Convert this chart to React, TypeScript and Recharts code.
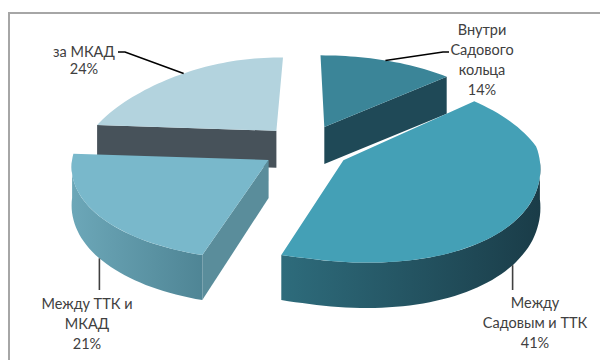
import React from 'react';
import { PieChart, Pie } from 'recharts';

// доли поездок по зонам
const zones = ['Внутри Садового кольца', 'Между Садовым и ТТК', 'Между ТТК и МКАД', 'за МКАД'];
const shares = [14, 41, 21, 24];
const labelLines = [
  ['Внутри', 'Садового', 'кольца'],
  ['Между', 'Садовым и ТТК'],
  ['Между ТТК и', 'МКАД'],
  ['за МКАД'],
];

const data = zones.map((name, i) => ({ name, value: shares[i], idx: i }));

const topColors = ['#3b8598', '#44a0b6', '#79b8cb', '#b3d3de'];
const sideColors = ['#1f4957', '#1d4250', '#5a8d9b', '#47525a'];
const wallFrom = ['#2a6676', '#2e6c7c', '#6ca7b8', '#8fb3bf'];
const wallTo = ['#1b3d49', '#1a3c48', '#4f8595', '#5f7f8a'];

// label blocks: centre x, first line y, line step, leader points after the slice anchor
const labelLayout = [
  { x: 482, y: 29, step: 20, leader: [[443, 52], [449, 52]] },
  { x: 535, y: 302, step: 20, leader: 'down' },
  { x: 87, y: 303, step: 20, leader: 'down' },
  { x: 84, y: 51, step: 17, leader: [[125, 52], [118, 52]] },
];

const EXPLODE = 0.23;
const BACK = [0, 3];

const rad = (a: number) => (a * Math.PI) / 180;

// rough 3d projection of a point on the pie disk (units of radius)
const project = (cx: number, cy: number, R: number, X: number, Z: number, down = false) => {
  const zp = Math.max(Z, 0);
  const zn = Math.min(Z, 0);
  const s = 1 - (0.2 + 0.1 * Math.max(0, -X)) * zp - 0.06 * zn;
  const x = cx + R * X * s;
  let y = cy - R * (0.513 * Z - 0.1026 * zp * zp) - R * 0.05 * Math.max(0, X) * zn;
  if (down) y += R * (0.19 - 0.038 * zn);
  return [x, y];
};

const arcPts = (cx: number, cy: number, R: number, ex: number, ez: number, a0: number, a1: number, down = false) => {
  const n = Math.max(2, Math.ceil(Math.abs(a1 - a0) / 2));
  const pts: number[][] = [];
  for (let k = 0; k <= n; k++) {
    const a = rad(a0 + ((a1 - a0) * k) / n);
    pts.push(project(cx, cy, R, ex + Math.cos(a), ez + Math.sin(a), down));
  }
  return pts;
};

const toPath = (pts: number[][]) =>
  pts.map((p, k) => `${k ? 'L' : 'M'}${p[0].toFixed(1)},${p[1].toFixed(1)}`).join(' ') + ' Z';

const makeSlice = (which: number[]) => (props: any) => {
  const { cx, cy, outerRadius: R, startAngle, endAngle, midAngle } = props;
  const i = props.payload?.idx ?? props.index;
  if (!which.includes(i)) return <g />;
  const ex = EXPLODE * Math.cos(rad(midAngle));
  const ez = EXPLODE * Math.sin(rad(midAngle));
  const vTop = project(cx, cy, R, ex, ez);
  const vBot = project(cx, cy, R, ex, ez, true);

  const radial = (a: number) => {
    const pTop = project(cx, cy, R, ex + Math.cos(rad(a)), ez + Math.sin(rad(a)));
    const pBot = project(cx, cy, R, ex + Math.cos(rad(a)), ez + Math.sin(rad(a)), true);
    return <path d={toPath([vTop, pTop, pBot, vBot])} fill={sideColors[i]} />;
  };

  const wa = Math.min(startAngle, 0);
  const wb = Math.max(endAngle, -180);
  const gid = `wall-${i}`;

  return (
    <g>
      <defs>
        <linearGradient id={gid} x1="0" y1="0" x2="1" y2="0">
          <stop offset="0%" stopColor={wallFrom[i]} />
          <stop offset="100%" stopColor={wallTo[i]} />
        </linearGradient>
      </defs>
      {Math.cos(rad(startAngle)) < -1e-6 && radial(startAngle)}
      {Math.cos(rad(endAngle)) > 1e-6 && radial(endAngle)}
      {wa > wb && (
        <path
          d={toPath([
            ...arcPts(cx, cy, R, ex, ez, wa, wb),
            ...arcPts(cx, cy, R, ex, ez, wb, wa, true),
          ])}
          fill={`url(#${gid})`}
        />
      )}
      <path d={toPath([vTop, ...arcPts(cx, cy, R, ex, ez, startAngle, endAngle)])} fill={topColors[i]} />
    </g>
  );
};

const renderLabel = (props: any) => {
  const { cx, cy, outerRadius: R, midAngle } = props;
  const i = props.payload?.idx ?? props.index;
  const lay = labelLayout[i];
  const ex = EXPLODE * Math.cos(rad(midAngle));
  const ez = EXPLODE * Math.sin(rad(midAngle));
  const front = Math.sin(rad(midAngle)) < 0;
  const X = ex + Math.cos(rad(midAngle));
  const Z = ez + Math.sin(rad(midAngle));
  const start = project(cx, cy, R, X, Z, front);
  const pts = lay.leader === 'down' ? [start, [start[0], 290]] : [start, ...(lay.leader as number[][])];
  const lines = [...labelLines[i], `${shares[i]}%`];
  return (
    <g>
      <polyline
        points={pts.map((p) => p.join(',')).join(' ')}
        fill="none"
        stroke={front ? '#404040' : '#000'}
        strokeWidth={1.6}
      />
      {lines.map((t, k) => (
        <text
          key={k}
          x={lay.x}
          y={lay.y + k * lay.step}
          textAnchor="middle"
          dominantBaseline="central"
          fill="#404040"
          fontSize={14.5}
          fontFamily="Lato, 'Liberation Sans', sans-serif"
        >
          {t}
        </text>
      ))}
    </g>
  );
};

export default function App() {
  return (
    <div style={{ position: 'absolute', left: 0, top: 0, width: 600, height: 360, background: '#fff', overflow: 'hidden' }}>
      <div
        style={{
          position: 'absolute',
          left: 8,
          top: 12,
          width: 600,
          height: 360,
          borderTop: '2px solid #a6a6a6',
          borderLeft: '2px solid #a6a6a6',
        }}
      />
      <div style={{ position: 'absolute', left: 0, top: 0 }}>
        <PieChart width={600} height={360} margin={{ top: 0, right: 0, bottom: 0, left: 0 }}>
          <Pie
            data={data}
            dataKey="value"
            cx={306}
            cy={147}
            outerRadius={195}
            startAngle={90}
            endAngle={-270}
            stroke="none"
            shape={makeSlice(BACK)}
            isAnimationActive={false}
          />
          <Pie
            data={data}
            dataKey="value"
            cx={306}
            cy={147}
            outerRadius={195}
            startAngle={90}
            endAngle={-270}
            stroke="none"
            shape={makeSlice([1, 2])}
            label={renderLabel}
            labelLine={false}
            isAnimationActive={false}
          />
        </PieChart>
      </div>
    </div>
  );
}
